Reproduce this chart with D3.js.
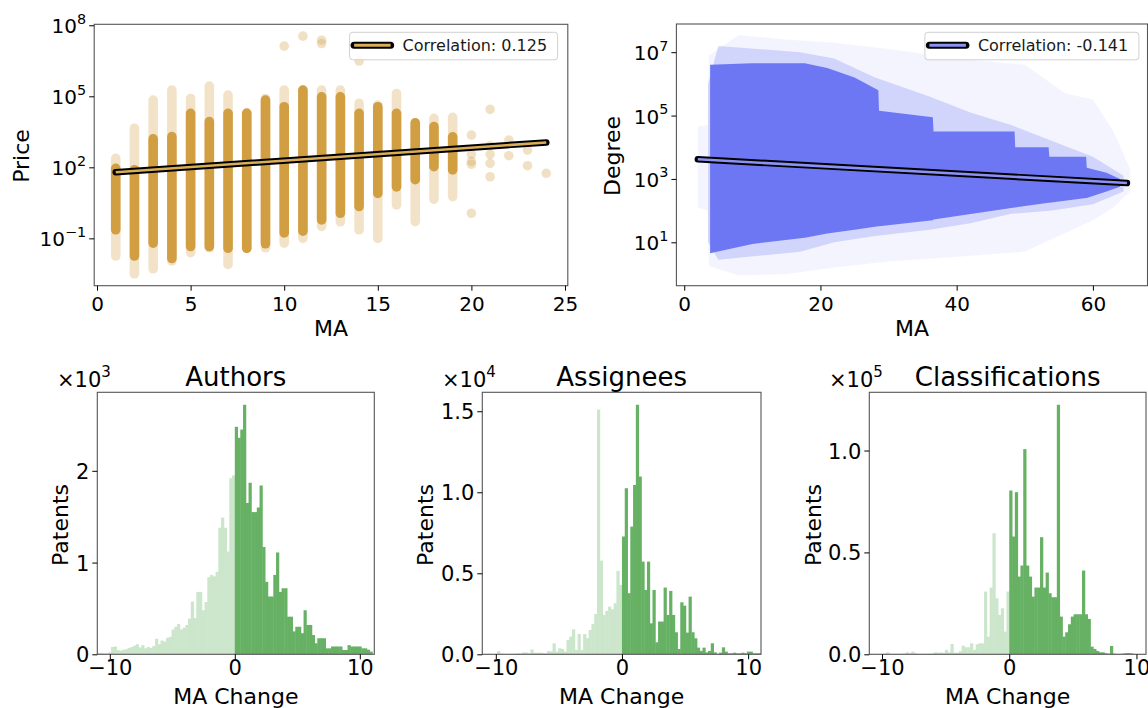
<!DOCTYPE html>
<html>
<head>
<meta charset="utf-8">
<script src="https://cdn.jsdelivr.net/npm/d3@7"></script>
<style>
  body { margin: 0; background: #fff; }
  svg { display: block; }
</style>
</head>
<body>
<svg id="chart" width="1148" height="708"></svg>
<script>
// ---------- Price vs MA (one column of patents per MA value) ----------
const maColumns       = [1, 2, 3, 4, 5, 6, 7, 8, 9, 10, 11, 12, 13, 14, 15, 16, 17, 18, 19];
const priceDenseLow   = [0.23, 0.018, 0.063, 0.014, 0.045, 0.045, 0.038, 0.038, 0.059, 0.17, 0.2, 0.6, 1.15, 2.2, 7.9, 15, 30, 107, 78];
const priceDenseHigh  = [91, 79, 1585, 1995, 19050, 8510, 19050, 19050, 69180, 36300, 182000, 95500, 95500, 19050, 36300, 19050, 7590, 5250, 1950];
const priceSpreadLow  = [0.018, 0.0032, 0.0052, 0.011, 0.025, 0.04, 0.0079, 0.038, 0.04, 0.063, 0.1, 0.32, 0.5, 0.23, 0.1, 2.6, 0.51, 4.5, 5.8];
const priceSpreadHigh = [240, 4467, 69180, 182000, 81280, 269200, 112200, 20400, 81280, 182000, 182000, 182000, 182000, 50120, 42660, 131800, 7590, 11750, 12880];
const outlierMA    = [10, 11, 12, 12, 14, 20, 20, 20, 20, 20, 21, 21, 21, 21, 21, 22, 22, 23, 23, 24];
const outlierPrice = [1.32e7, 3.47e7, 2.34e7, 1.7e7, 3.09e6, 2290, 355, 178, 135, 1.15, 28180, 813, 355, 148, 40, 1413, 309, 537, 117, 56];
const priceFitMA    = [1, 24];
const priceFitValue = [62, 1122];
const priceCorrelation = "Correlation: 0.125";
const priceXTicks = [0, 5, 10, 15, 20, 25];
const priceYTicks = [1e-1, 1e2, 1e5, 1e8];

// ---------- Degree vs MA (density envelopes of the point cloud) ----------
const haloMA   = [2, 3.4, 3.6, 8, 15, 22, 30, 40, 50, 56, 60, 63, 65.5];
const haloHigh = [44700, 50100, 7.9e6, 3.5e7, 2.5e7, 2.0e7, 1.26e7, 6.3e6, 4.0e6, 5.0e5, 3.2e5, 3.2e4, 2000];
const haloLow  = [126, 100, 1.8, 0.89, 1.0, 1.6, 2.5, 3.5, 5.0, 20, 50, 126, 400];
const midMA    = [3.5, 5, 17, 22, 28, 36, 42, 48, 54, 60, 64.5];
const midHigh  = [1e6, 1.58e7, 1e7, 6.3e6, 1.58e6, 4.0e5, 1.26e5, 50100, 15800, 5000, 1260];
const midLow   = [10, 2.8, 5.0, 10, 15.8, 25, 40, 79, 100, 158, 400];
const denseMA   = [3.8, 10, 17.7, 21, 25, 28.5, 28.6, 36.5, 36.6, 48.5, 48.6, 53.5, 53.6, 59, 59.1, 62, 64];
const denseHigh = [4.0e6, 4.5e6, 4.5e6, 3.2e6, 1.58e6, 6.3e5, 1.41e5, 89000, 31600, 31600, 10000, 10000, 5000, 5000, 2240, 1580, 1000];
const denseLow  = [4.5, 8.9, 14, 19, 25, 32, 32, 50, 52, 126, 126, 178, 178, 251, 251, 398, 562];
const degreeFitMA    = [2, 65];
const degreeFitValue = [4170, 741];
const degreeCorrelation = "Correlation: -0.141";
const degreeXTicks = [0, 20, 40, 60];
const degreeYTicks = [1e1, 1e3, 1e5, 1e7];

// ---------- MA change histograms (bins of 0.22 from -11 to 0, and 0 to 11) ----------
const binWidth = 0.22;
const authorsNeg = [15, 15, 10, 10, 20, 80, 85, 45, 40, 50, 55, 70, 80, 95, 110, 75, 100, 65, 80, 70,
                    90, 170, 110, 150, 140, 180, 190, 270, 300, 330, 270, 290, 320, 390, 575, 395, 680, 680, 480, 570,
                    840, 865, 850, 900, 1380, 1490, 1380, 1120, 1920, 1950];
const authorsPos = [2480, 2360, 2450, 2720, 1650, 1870, 1550, 1550, 1600, 1840, 1170, 790, 630, 630, 865, 1110, 680, 720, 720, 410,
                    410, 250, 300, 300, 230, 480, 320, 320, 210, 120, 175, 175, 175, 65, 65, 85, 85, 85, 85, 47,
                    47, 100, 85, 85, 85, 85, 65, 65, 50, 30];
const assigneesNeg = [20, 15, 10, 10, 10, 200, 40, 30, 20, 10, 15, 40, 60, 50, 120, 110, 60, 300, 100, 90,
                      100, 80, 60, 200, 170, 680, 165, 370, 330, 165, 885, 1090, 1540, 270, 1255, 270, 1255, 990, 1500, 1870,
                      2490, 15100, 5780, 2430, 2680, 2940, 2780, 3150, 5150, 4280];
const assigneesPos = [7270, 10250, 3770, 7880, 10450, 15400, 10970, 5720, 3970, 5720, 1910, 3970, 740, 2020, 2020, 4120, 2430, 3910, 2430, 1360,
                      330, 3210, 3000, 1340, 3560, 1360, 990, 410, 210, 410, 120, 210, 680, 120, 30, 100, 430, 165, 60, 60,
                      100, 60, 60, 100, 60, 165, 165, 60, 60, 60];
const classificationsNeg = [200, 150, 100, 100, 100, 400, 980, 300, 200, 300, 150, 300, 300, 980, 500, 1310, 500, 200, 100, 200,
                            200, 300, 300, 980, 800, 900, 700, 2130, 1000, 5080, 820, 800, 1500, 4260, 3440, 3440, 5400, 2130, 4910, 5400,
                            5400, 30780, 8680, 32740, 59420, 27500, 19320, 22590, 11130, 30780];
const classificationsPos = [80380, 57790, 79560, 38140, 43540, 100680, 43540, 38140, 28320, 32740, 32740, 57460, 32740, 40110, 29960, 28000, 28000, 122450, 18500, 8680,
                            10800, 14730, 18500, 19640, 19640, 19640, 41090, 19640, 17350, 3770, 2620, 1640, 980, 980, 500, 300, 4090, 300, 200, 200,
                            300, 500, 600, 500, 200, 100, 100, 50, 50, 50];
const histXTicks = [-10, 0, 10];
const histXTickLabels = ["\u221210", "0", "10"];
const authorsYTicks = [0, 1000, 2000];
const authorsYTickLabels = ["0", "1", "2"];
const assigneesYTicks = [0, 5000, 10000, 15000];
const assigneesYTickLabels = ["0.0", "0.5", "1.0", "1.5"];
const classificationsYTicks = [0, 50000, 100000];
const classificationsYTickLabels = ["0.0", "0.5", "1.0"];

// ---------- styles ----------
const FONT = "'DejaVu Sans', sans-serif";
const gold = "#cf9a3a", goldLine = "#d9ae57";
const blue = "#6d77f3", blueLine = "#8a92f5";
const greenDark = "#66b164", greenLight = "#cce6cc";
const spineColor = "#555";

const svg = d3.select("#chart");
const defs = svg.append("defs");

function clipRect(id, x0, y0, x1, y1) {
  defs.append("clipPath").attr("id", id).append("rect")
    .attr("x", x0).attr("y", y0).attr("width", x1 - x0).attr("height", y1 - y0);
}

function spine(x0, y0, x1, y1) {
  svg.append("rect").attr("x", x0).attr("y", y0).attr("width", x1 - x0).attr("height", y1 - y0)
    .attr("fill", "none").attr("stroke", spineColor).attr("stroke-width", 1.1);
}

function xAxis(scale, y0, ticks, fmt, size, baseline) {
  const g = svg.append("g").attr("transform", `translate(0,${y0})`);
  g.call(d3.axisBottom(scale).tickValues(ticks).tickFormat(fmt).tickSize(5).tickSizeOuter(0));
  g.select(".domain").remove();
  g.selectAll(".tick line").attr("stroke", "#000");
  g.selectAll(".tick text").attr("font-family", FONT).attr("font-size", size).attr("fill", "#000")
    .attr("dy", null).attr("y", baseline);
  return g;
}

function yAxis(scale, x0, ticks, fmt, size, shift) {
  const g = svg.append("g").attr("transform", `translate(${x0},0)`);
  g.call(d3.axisLeft(scale).tickValues(ticks).tickFormat(fmt).tickSize(5).tickSizeOuter(0));
  g.select(".domain").remove();
  g.selectAll(".tick line").attr("stroke", "#000");
  g.selectAll(".tick text").attr("font-family", FONT).attr("font-size", size).attr("fill", "#000")
    .attr("dy", null).attr("y", shift).attr("x", -8);
  return g;
}

function powerLabels(g, size) {
  g.selectAll(".tick").each(function (d) {
    const e = Math.round(Math.log10(d));
    const t = d3.select(this).select("text").text(null);
    t.append("tspan").text("10");
    t.append("tspan").attr("font-size", size * 0.72).attr("dy", -9.5)
      .text(e < 0 ? "\u2212" + Math.abs(e) : String(e));
  });
}

function label(x, y, txt, size, rotate) {
  const t = svg.append("text").attr("font-family", FONT).attr("font-size", size).attr("fill", "#000")
    .attr("text-anchor", "middle").text(txt);
  if (rotate) t.attr("transform", `translate(${x},${y}) rotate(-90)`);
  else t.attr("x", x).attr("y", y);
  return t;
}

function legend(x, y, w, lineColor, txt) {
  const g = svg.append("g");
  g.append("rect").attr("x", x).attr("y", y).attr("width", w).attr("height", 27.5).attr("rx", 3)
    .attr("fill", "#fff").attr("fill-opacity", 0.85).attr("stroke", "#d0d0d0");
  g.append("line").attr("x1", x + 4.5).attr("x2", x + 41).attr("y1", y + 13).attr("y2", y + 13)
    .attr("stroke", "#000").attr("stroke-width", 7).attr("stroke-linecap", "round");
  g.append("line").attr("x1", x + 4.5).attr("x2", x + 41).attr("y1", y + 13).attr("y2", y + 13)
    .attr("stroke", lineColor).attr("stroke-width", 3);
  g.append("text").attr("x", x + 53).attr("y", y + 19).attr("font-family", FONT).attr("font-size", 16)
    .attr("fill", "#1a1a1a").text(txt);
}

function fitLine(g, xs, ys, xv, yv, color) {
  const line = d3.line().x(d => xs(d[0])).y(d => ys(d[1]));
  const pts = xv.map((v, i) => [v, yv[i]]);
  g.append("path").attr("d", line(pts)).attr("stroke", "#000").attr("stroke-width", 6.5)
    .attr("stroke-linecap", "round").attr("fill", "none");
  g.append("path").attr("d", line(pts)).attr("stroke", color).attr("stroke-width", 2.6)
    .attr("stroke-linecap", "butt").attr("fill", "none");
}

// ================= Price vs MA =================
{
  const L = 94.2, R = 567.8, T = 24.3, B = 285.7, r = 4.8;
  const x = d3.scaleLinear().domain([-0.15, 25.15]).range([L, R]);
  const y = d3.scaleLog().domain([1e-3, 1.1e8]).range([B, T]);
  clipRect("clipPrice", L, T, R, B);
  const g = svg.append("g").attr("clip-path", "url(#clipPrice)");

  const cols = maColumns.map((m, i) => ({ m, lo: priceSpreadLow[i], hi: priceSpreadHigh[i], dlo: priceDenseLow[i], dhi: priceDenseHigh[i] }));
  g.selectAll("rect.spread").data(cols).join("rect").attr("class", "spread")
    .attr("x", d => x(d.m) - r).attr("width", 2 * r)
    .attr("y", d => y(d.hi) - r).attr("height", d => y(d.lo) - y(d.hi) + 2 * r)
    .attr("rx", r).attr("fill", gold).attr("opacity", 0.28);
  g.selectAll("rect.dense").data(cols).join("rect").attr("class", "dense")
    .attr("x", d => x(d.m) - r).attr("width", 2 * r)
    .attr("y", d => y(d.dhi) - r).attr("height", d => y(d.dlo) - y(d.dhi) + 2 * r)
    .attr("rx", r).attr("fill", gold).attr("opacity", 0.95);
  g.selectAll("circle.out").data(outlierMA.map((m, i) => [m, outlierPrice[i]])).join("circle")
    .attr("class", "out").attr("cx", d => x(d[0])).attr("cy", d => y(d[1])).attr("r", r)
    .attr("fill", gold).attr("opacity", 0.3);

  fitLine(svg.append("g"), x, y, priceFitMA, priceFitValue, goldLine);
  spine(L, T, R, B);
  xAxis(x, B, priceXTicks, d3.format("d"), 20, 25);
  powerLabels(yAxis(y, L, priceYTicks, () => "", 20, 7.5), 20);
  label(331, 336, "MA", 22);
  label(29, 156, "Price", 22, true);
  legend(349.6, 32.3, 208, goldLine, priceCorrelation);
}

// ================= Degree vs MA =================
{
  const L = 676.4, R = 1147.5, T = 24, B = 285.7;
  const x = d3.scaleLinear().domain([-1.15, 68.15]).range([L, 1148.4]);
  const y = d3.scaleLog().domain([0.427, 7.76e7]).range([B, T]);
  clipRect("clipDegree", L, T, R, B);
  const g = svg.append("g").attr("clip-path", "url(#clipDegree)");
  const area = d3.area().x(d => x(d[0])).y0(d => y(d[1])).y1(d => y(d[2]));

  g.append("path").attr("d", area(haloMA.map((m, i) => [m, haloLow[i], haloHigh[i]])))
    .attr("fill", blue).attr("opacity", 0.08);
  g.append("path").attr("d", area(midMA.map((m, i) => [m, midLow[i], midHigh[i]])))
    .attr("fill", blue).attr("opacity", 0.26);
  g.append("path").attr("d", area(denseMA.map((m, i) => [m, denseLow[i], denseHigh[i]])))
    .attr("fill", blue).attr("opacity", 1);

  fitLine(svg.append("g"), x, y, degreeFitMA, degreeFitValue, blueLine);
  spine(L, T, R, B);
  xAxis(x, B, degreeXTicks, d3.format("d"), 20, 25);
  powerLabels(yAxis(y, L, degreeYTicks, () => "", 20, 7.5), 20);
  label(912, 336, "MA", 22);
  label(620, 156, "Degree", 22, true);
  legend(924.9, 32.3, 214, blueLine, degreeCorrelation);
}

// ================= MA change histograms =================
const histPanels = [
  { title: "Authors", neg: authorsNeg, pos: authorsPos, yTicks: authorsYTicks, yLabels: authorsYTickLabels, power: "3",
    L: 97.3, R: 374.3, xDomain: [-11.0, 11.16], offsetX: 57, ylabX: 68 },
  { title: "Assignees", neg: assigneesNeg, pos: assigneesPos, yTicks: assigneesYTicks, yLabels: assigneesYTickLabels, power: "4",
    L: 482.3, R: 761, xDomain: [-11.07, 11.02], offsetX: 442, ylabX: 433 },
  { title: "Classifications", neg: classificationsNeg, pos: classificationsPos, yTicks: classificationsYTicks, yLabels: classificationsYTickLabels, power: "5",
    L: 869.3, R: 1146, xDomain: [-11.0, 10.75], offsetX: 829, ylabX: 821 }
];

histPanels.forEach((p, k) => {
  const T = 392.3, B = 654.3;
  const x = d3.scaleLinear().domain(p.xDomain).range([p.L, p.R]);
  const yMax = d3.max(p.neg.concat(p.pos)) * 1.05;
  const y = d3.scaleLinear().domain([0, yMax]).range([B, T]);
  clipRect("clipHist" + k, p.L, T, p.R, B);
  const g = svg.append("g").attr("clip-path", `url(#clipHist${k})`);

  const bars = p.neg.map((v, i) => ({ x0: -11 + i * binWidth, v, c: greenLight }))
    .concat(p.pos.map((v, i) => ({ x0: i * binWidth, v, c: greenDark })));
  g.selectAll("rect").data(bars).join("rect")
    .attr("x", d => x(d.x0))
    .attr("width", d => x(d.x0 + binWidth) - x(d.x0) + 0.45)
    .attr("y", d => y(d.v))
    .attr("height", d => B - y(d.v))
    .attr("fill", d => d.c);

  spine(p.L, T, p.R, B);
  xAxis(x, B, histXTicks, (d, i) => histXTickLabels[i], 21, 20.7);
  yAxis(y, p.L, p.yTicks, (d, i) => p.yLabels[i], 21, 7.5);

  const cx = (p.L + p.R) / 2;
  label(cx, 386, p.title, 26);
  label(cx, 704, "MA Change", 22);
  label(p.ylabX, 525, "Patents", 22, true);

  const off = svg.append("text").attr("x", p.offsetX).attr("y", 387)
    .attr("font-family", FONT).attr("font-size", 21).attr("fill", "#000");
  off.append("tspan").text("\u00d710");
  off.append("tspan").attr("font-size", 15).attr("dy", -10).text(p.power);
});
</script>
</body>
</html>
